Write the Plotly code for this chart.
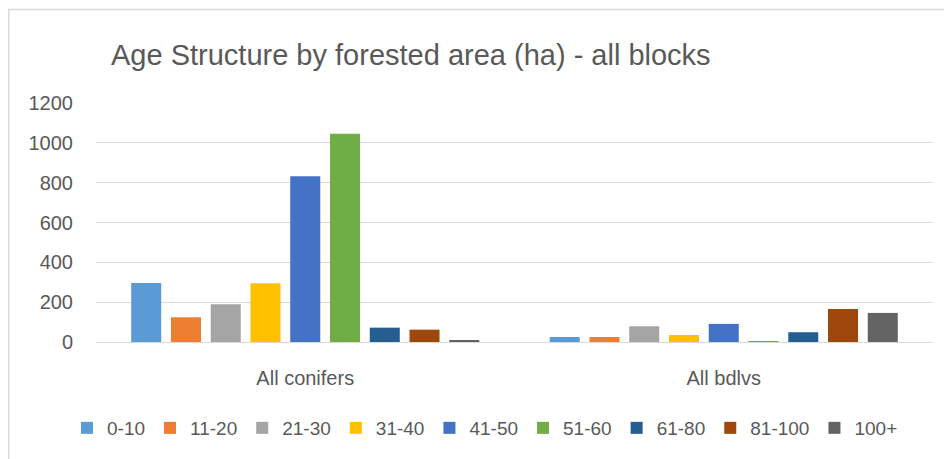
import plotly.graph_objects as go

categories = ["All conifers", "All bdlvs"]
age_classes = ["0-10", "11-20", "21-30", "31-40", "41-50", "51-60", "61-80", "81-100", "100+"]
conifers = [296, 124, 189, 295, 832, 1046, 72, 62, 8]
bdlvs = [25, 25, 79, 35, 91, 5, 49, 166, 146]
colors = ["#5B9BD5", "#ED7D31", "#A5A5A5", "#FFC000", "#4472C4", "#70AD47", "#255E91", "#9E480E", "#636363"]
y_ticks = [0, 200, 400, 600, 800, 1000, 1200]

FONT = "Liberation Sans"
TXT = "#595959"

# page body has an 8px margin, so the figure is drawn offset by (8, 8)
W, H = 944, 451
L, R, T, B = 88, 19, 95, 117
PW = W - L - R
PH = H - T - B

fig = go.Figure()
for i, name in enumerate(age_classes):
    fig.add_trace(go.Bar(
        name=name,
        x=categories,
        y=[conifers[i], bdlvs[i]],
        marker=dict(color=colors[i], line=dict(width=0)),
    ))

fig.update_layout(
    width=W, height=H,
    barmode="group",
    bargap=0.145,
    bargroupgap=0.245,
    margin=dict(l=L, r=R, t=T, b=B, autoexpand=False),
    paper_bgcolor="white",
    plot_bgcolor="white",
    font=dict(family=FONT, color=TXT, size=20),
    title=dict(
        text="Age Structure by forested area (ha) - all blocks",
        font=dict(family=FONT, size=29, color=TXT),
        x=103 / W, xanchor="left", xref="container",
        y=1 - 47 / H, yanchor="middle", yref="container",
    ),
    xaxis=dict(
        showgrid=False, showline=False, ticks="",
        tickfont=dict(size=20, color=TXT),
        ticklabelstandoff=22,
    ),
    yaxis=dict(
        range=[0, 1200],
        tickvals=y_ticks,
        showgrid=True, gridcolor="#D9D9D9", gridwidth=1,
        zeroline=True, zerolinecolor="#D9D9D9", zerolinewidth=1,
        showline=False, ticks="",
        tickfont=dict(size=20, color=TXT),
        ticklabelstandoff=22,
    ),
    legend=dict(
        orientation="h",
        x=477 / W, xanchor="center", xref="container",
        y=1 - 420 / H, yanchor="middle", yref="container",
        font=dict(size=19, color=TXT),
        itemwidth=30,
        traceorder="normal",
    ),
    shapes=[dict(
        type="rect", xref="paper", yref="paper",
        x0=(0.75 - L) / PW, x1=1.1,
        y0=-0.7, y1=(PH + T - 1.5) / PH,
        line=dict(color="#D9D9D9", width=1.5),
        fillcolor="rgba(0,0,0,0)",
        layer="below",
    )],
)

fig.write_html("out.html")
